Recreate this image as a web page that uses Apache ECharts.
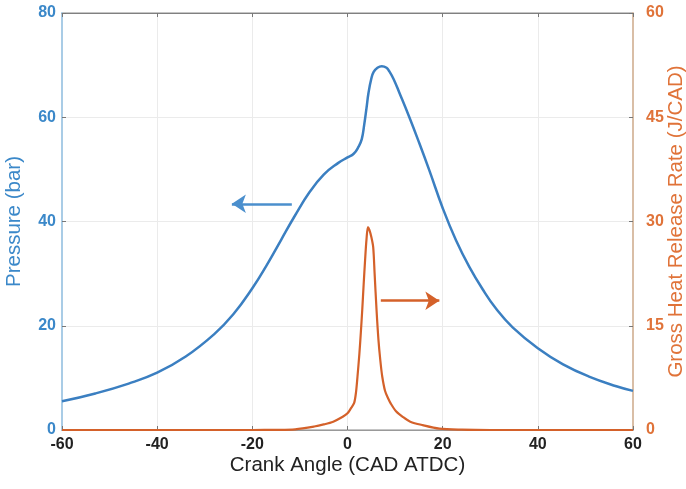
<!DOCTYPE html>
<html>
<head>
<meta charset="utf-8">
<script src="https://cdn.jsdelivr.net/npm/echarts@6/dist/echarts.min.js"></script>
<style>
  html, body { margin: 0; padding: 0; background: #fff; }
  #chart { width: 686px; height: 489px; }
</style>
</head>
<body>
<div id="chart"></div>
<script>
// Cylinder pressure vs crank angle (bar)
const pressureCad = [-60, -53, -46, -40, -34, -28, -24, -20, -17, -14, -11, -8, -5, -2, 0, 1.3, 2.3, 3.0, 3.5, 4.0, 4.4, 5.0, 5.5, 6.3, 7.2, 8.2, 8.8, 9.7, 10.9, 13, 15.1, 17.2, 20, 22.8, 25.6, 28.4, 31.2, 34.7, 40, 45.3, 50.9, 56.5, 60];
const pressureBar = [5.5, 7.0, 8.9, 11.0, 14.1, 18.4, 22.2, 27.2, 31.6, 36.4, 41.2, 45.6, 49.0, 51.2, 52.3, 53.0, 54.3, 55.8, 58.5, 61.8, 64.6, 67.4, 68.7, 69.5, 69.8, 69.5, 68.8, 67.3, 64.7, 60.0, 55.0, 49.8, 42.6, 36.4, 31.3, 27.0, 23.3, 19.7, 15.7, 12.6, 10.2, 8.4, 7.5];

// Gross heat release rate vs crank angle (J/CAD)
const hrrCad = [-60, -20, -15, -11, -7, -5, -3, -1, 0, 0.7, 1.4, 1.8, 2.1, 2.5, 2.8, 3.1, 3.4, 3.7, 4.0, 4.3, 4.6, 5.0, 5.4, 5.7, 6.1, 6.5, 6.9, 7.3, 7.9, 8.5, 9.1, 10.2, 11.6, 13.2, 15.8, 19.3, 24, 30, 60];
const hrrValue = [0, 0, 0.02, 0.1, 0.5, 0.8, 1.2, 1.9, 2.4, 3.1, 3.9, 5.5, 7.7, 11.0, 14.0, 17.3, 21.0, 24.5, 27.5, 29.2, 28.8, 27.8, 26.3, 22.5, 17.3, 13.0, 10.0, 7.7, 5.6, 4.6, 3.8, 2.7, 1.9, 1.2, 0.7, 0.2, 0.05, 0, 0];

// Axis ranges and tick steps
const xRange = [-60, 60], xStep = 20;
const pRange = [0, 80], pStep = 20;
const hRange = [0, 60], hStep = 15;

// Direction arrows pointing to each curve's axis (data coordinates)
const pressureArrow = [[-11.7, 43.4], [-24.3, 43.4]];
const hrrArrow = [[7.0, 18.6], [19.3, 18.6]];

const BLUE = '#3b7fc1';
const ORANGE = '#d4612a';
const BLUE_TEXT = '#3b88c9';
const ORANGE_TEXT = '#e07339';
const FONT = 'Liberation Sans, Arial, sans-serif';
const TITLE_SIZE = 20.5;
const TICK_SIZE = 16;

const pressureData = pressureCad.map((c, i) => [c, pressureBar[i]]);
const hrrData = hrrCad.map((c, i) => [c, hrrValue[i]]);

const chart = echarts.init(document.getElementById('chart'), null, { renderer: 'canvas' });
chart.setOption({
  animation: false,
  backgroundColor: '#ffffff',
  grid: {
    left: 62, right: 53, top: 13, bottom: 59,
    outerBoundsMode: 'none', containLabel: false,
    show: true, borderColor: '#8a8a8a', borderWidth: 1, backgroundColor: 'transparent'
  },
  xAxis: [{
    type: 'value', min: xRange[0], max: xRange[1], interval: xStep,
    name: 'Crank Angle (CAD ATDC)', nameLocation: 'middle', nameGap: 25, nameMoveOverlap: false,
    nameTextStyle: { fontFamily: FONT, fontSize: TITLE_SIZE, color: '#222' },
    axisLine: { show: true, onZero: false, lineStyle: { color: '#999', width: 1 } },
    axisTick: { show: true, inside: true, length: 4, lineStyle: { color: '#777' } },
    axisLabel: { fontFamily: FONT, fontSize: TICK_SIZE, fontWeight: 'bold', color: '#222', margin: 7 },
    splitLine: { show: true, lineStyle: { color: '#ebebeb', width: 1 } }
  }, {
    type: 'value', min: xRange[0], max: xRange[1], interval: xStep, position: 'top',
    axisLine: { show: true, onZero: false, lineStyle: { color: '#808080', width: 1 } },
    axisTick: { show: true, inside: true, length: 4, lineStyle: { color: '#777' } },
    axisLabel: { show: false },
    splitLine: { show: false }
  }],
  yAxis: [{
    type: 'value', min: pRange[0], max: pRange[1], interval: pStep, position: 'left',
    name: 'Pressure (bar)', nameLocation: 'middle', nameGap: 37, nameRotate: 90, nameMoveOverlap: false,
    nameTextStyle: { fontFamily: FONT, fontSize: TITLE_SIZE, color: BLUE_TEXT },
    axisLine: { show: true, onZero: false, lineStyle: { color: '#a9cce6', width: 2 } },
    axisTick: { show: true, inside: true, length: 4, lineStyle: { color: '#777' } },
    axisLabel: { fontFamily: FONT, fontSize: TICK_SIZE, fontWeight: 'bold', color: BLUE_TEXT, margin: 6 },
    splitLine: { show: true, lineStyle: { color: '#ebebeb', width: 1 } }
  }, {
    type: 'value', min: hRange[0], max: hRange[1], interval: hStep, position: 'right',
    name: 'Gross Heat Release Rate (J/CAD)', nameLocation: 'middle', nameGap: 33, nameRotate: 90, nameMoveOverlap: false,
    nameTextStyle: { fontFamily: FONT, fontSize: TITLE_SIZE, color: ORANGE_TEXT },
    axisLine: { show: true, onZero: false, lineStyle: { color: '#d9bea6', width: 2 } },
    axisTick: { show: true, inside: true, length: 4, lineStyle: { color: '#777' } },
    axisLabel: { fontFamily: FONT, fontSize: TICK_SIZE, fontWeight: 'bold', color: ORANGE_TEXT, margin: 13 },
    splitLine: { show: false }
  }],
  series: [{
    name: 'Pressure',
    type: 'line', xAxisIndex: 0, yAxisIndex: 0,
    data: pressureData, showSymbol: false,
    smooth: 0.45,
    lineStyle: { color: BLUE, width: 2.5 },
    z: 3,
    markLine: {
      silent: true, symbol: ['none', 'arrow'], symbolSize: 14,
      label: { show: false },
      lineStyle: { color: '#4b8fcd', width: 2.5, type: 'solid' },
      data: [[{ coord: pressureArrow[0] }, { coord: pressureArrow[1] }]]
    }
  }, {
    name: 'Gross HRR',
    type: 'line', xAxisIndex: 0, yAxisIndex: 1,
    data: hrrData, showSymbol: false,
    smooth: 0.3,
    lineStyle: { color: ORANGE, width: 2.2 },
    z: 4,
    markLine: {
      silent: true, symbol: ['none', 'arrow'], symbolSize: 14,
      label: { show: false },
      lineStyle: { color: ORANGE, width: 2.5, type: 'solid' },
      data: [[{ coord: hrrArrow[0] }, { coord: hrrArrow[1] }]]
    }
  }]
});
</script>
</body>
</html>
